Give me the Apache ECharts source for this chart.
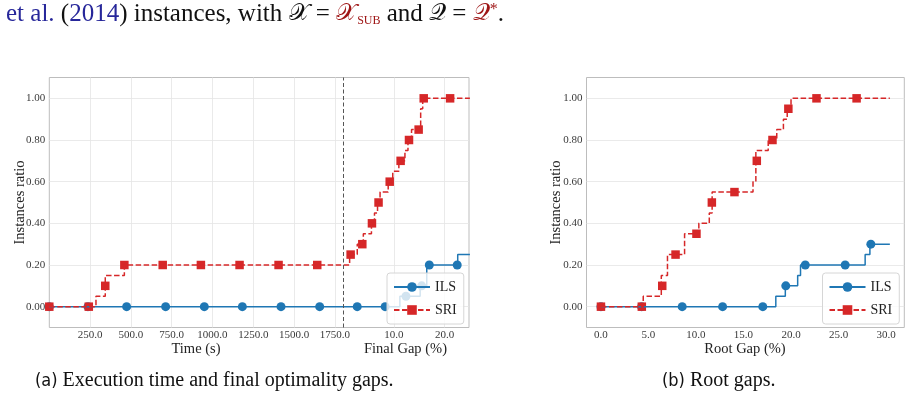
<!DOCTYPE html>
<html><head><meta charset="utf-8">
<script src="https://cdn.jsdelivr.net/npm/echarts@6/dist/echarts.min.js"></script>
<style>html,body{margin:0;padding:0;background:#fff}#c{width:911px;height:403px}</style>
</head><body><div id="c"></div>
<script>
// ---------------- DATA ----------------
// Shared-axis convention of panel (a): time in seconds up to the time limit,
// then final gap (%) stretched after it.
const TIME_LIMIT = 1800;
const GAP_SCALE = 31.1;          // axis units per 1 % of final gap
const LEFT_AXIS_MAX = 2572;

const ratioTicks = [0, 0.2, 0.4, 0.6, 0.8, 1.0];
const timeTicks = [250, 500, 750, 1000, 1250, 1500, 1750];
const finalGapTicks = [10, 20];
const rootGapTicks = [0, 5, 10, 15, 20, 25, 30];

// Panel (a) - time part: step curves (x = seconds, y = instance ratio)
const timeIlsStepX = [0, 1800];
const timeIlsStepY = [0, 0];
const timeSriStepX = [0, 286, 343, 460, 1800];
const timeSriStepY = [0, 0.05, 0.15, 0.20, 0.20];
// Panel (a) - final gap part: step curves (x = gap %)
const gapIlsStepX = [11.2, 15.2, 16.5, 22.6, 25];
const gapIlsStepY = [0.05, 0.10, 0.20, 0.25, 0.25];
const gapSriStepX = [1.3, 2.8, 4.0, 5.6, 6.2, 6.8, 7.3, 8.9, 9.8, 11.0, 12.2, 12.8, 13.5, 15.3, 15.7, 25];
const gapSriStepY = [0.25, 0.30, 0.35, 0.40, 0.45, 0.50, 0.55, 0.60, 0.65, 0.70, 0.75, 0.80, 0.85, 0.95, 1.00, 1.00];
// Panel (a) markers
const timeIlsMarkX = [0, 237, 474, 713, 950, 1183, 1420, 1657];
const timeIlsMarkY = [0, 0, 0, 0, 0, 0, 0, 0];
const gapIlsMarkX = [2.8, 8.3, 12.4, 15.5, 17.0, 22.5];
const gapIlsMarkY = [0, 0, 0.05, 0.10, 0.20, 0.20];
const timeSriMarkX = [0, 242, 343, 460, 695, 929, 1166, 1405, 1642];
const timeSriMarkY = [0, 0, 0.10, 0.20, 0.20, 0.20, 0.20, 0.20, 0.20];
const gapSriMarkX = [1.5, 3.8, 5.7, 7.0, 9.2, 11.35, 13.0, 14.9, 15.9, 21.1];
const gapSriMarkY = [0.25, 0.30, 0.40, 0.50, 0.60, 0.70, 0.80, 0.85, 1.00, 1.00];

// Panel (b) - root gap (%)
const rootIlsStepX = [0, 18.4, 19.4, 20.7, 21.0, 27.8, 28.3, 30.4];
const rootIlsStepY = [0, 0.05, 0.10, 0.15, 0.20, 0.25, 0.30, 0.30];
const rootSriStepX = [0, 4.45, 6.35, 7.0, 8.8, 10.3, 11.4, 11.7, 16.0, 16.3, 17.6, 18.5, 19.2, 19.6, 20.0, 30.4];
const rootSriStepY = [0, 0.05, 0.15, 0.25, 0.35, 0.40, 0.45, 0.55, 0.60, 0.75, 0.80, 0.85, 0.90, 0.95, 1.00, 1.00];
const rootIlsMarkX = [0, 4.28, 8.55, 12.8, 17.03, 19.45, 21.5, 25.7, 28.4];
const rootIlsMarkY = [0, 0, 0, 0, 0, 0.10, 0.20, 0.20, 0.30];
const rootSriMarkX = [0, 4.3, 6.45, 7.85, 10.05, 11.67, 14.05, 16.4, 18.05, 19.72, 22.68, 26.9];
const rootSriMarkY = [0, 0, 0.10, 0.25, 0.35, 0.50, 0.55, 0.70, 0.80, 0.95, 1.00, 1.00];

// ---------------- BUILD ----------------
const SERIF = "'Liberation Serif','DejaVu Serif',serif";
const BLUE = '#1f77b4', RED = '#d62728';
const gapToAxis = g => TIME_LIMIT + g * GAP_SCALE;
const zip = (xs, ys, fx) => xs.map((x, i) => [fx ? fx(x) : x, ys[i]]);

const leftTickPos = timeTicks.concat(finalGapTicks.map(gapToAxis));
const leftLabel = v => {
  if (v <= TIME_LIMIT) return v.toFixed(1);
  return ((v - TIME_LIMIT) / GAP_SCALE).toFixed(1);
};

const leftIlsLine = zip(timeIlsStepX, timeIlsStepY).concat(zip(gapIlsStepX, gapIlsStepY, gapToAxis));
const leftSriLine = zip(timeSriStepX, timeSriStepY).concat(zip(gapSriStepX, gapSriStepY, gapToAxis));
const leftIlsMarks = zip(timeIlsMarkX, timeIlsMarkY).concat(zip(gapIlsMarkX, gapIlsMarkY, gapToAxis));
const leftSriMarks = zip(timeSriMarkX, timeSriMarkY).concat(zip(gapSriMarkX, gapSriMarkY, gapToAxis));

const tickLabelStyle = {fontFamily: SERIF, fontSize: 11, color: '#3a3a3a'};
const gridLine = {lineStyle: {color: '#e4e4e4', width: 0.8}};

function yAxis(gi) {
  return {
    gridIndex: gi, type: 'value', min: -0.1, max: 1.1,
    axisLine: {show: false},
    axisTick: {show: false, customValues: ratioTicks},
    axisLabel: Object.assign({customValues: ratioTicks, formatter: v => v.toFixed(2), margin: 4}, tickLabelStyle),
    splitLine: Object.assign({show: true}, gridLine)
  };
}

function lineSeries(name, data, xi, color, dashed, symbol, extra) {
  return Object.assign({
    name, type: 'line', step: 'end', data, xAxisIndex: xi, yAxisIndex: xi,
    showSymbol: false, symbol, symbolSize: 9,
    lineStyle: {color, width: 1.5, type: dashed ? [5.5, 2.5] : 'solid'},
    itemStyle: {color}, animation: false, silent: true, clip: true
  }, extra || {});
}
function markSeries(name, data, xi, color, symbol, size) {
  return {
    name, type: 'scatter', data, xAxisIndex: xi, yAxisIndex: xi,
    symbol, symbolSize: size, itemStyle: {color, opacity: 1},
    animation: false, silent: true, clip: false
  };
}

const legendCommon = {
  orient: 'vertical', top: 273, padding: [7, 7, 7, 6],
  itemWidth: 36, itemHeight: 12, itemGap: 9,
  backgroundColor: 'rgba(255,255,255,0.8)', borderColor: '#d6d6d6', borderWidth: 1, borderRadius: 3,
  textStyle: {fontFamily: SERIF, fontSize: 14, color: '#222'},
  data: ['ILS', 'SRI'], z: 20, selectedMode: false
};

const option = {
  backgroundColor: '#fff',
  animation: false,
  grid: [
    {left: 49.3, top: 77.5, width: 419.7, height: 250, show: true, borderColor: '#bdbdbd', borderWidth: 1, containLabel: false},
    {left: 586.5, top: 77.5, width: 317.8, height: 250, show: true, borderColor: '#bdbdbd', borderWidth: 1, containLabel: false}
  ],
  xAxis: [
    {
      gridIndex: 0, type: 'value', min: 0, max: LEFT_AXIS_MAX,
      axisLine: {show: false},
      axisTick: {show: false, customValues: leftTickPos},
      axisLabel: Object.assign({customValues: leftTickPos, formatter: leftLabel, margin: 2}, tickLabelStyle),
      splitLine: Object.assign({show: true}, gridLine)
    },
    {
      gridIndex: 1, type: 'value', min: -1.52, max: 31.92,
      axisLine: {show: false},
      axisTick: {show: false, customValues: rootGapTicks},
      axisLabel: Object.assign({customValues: rootGapTicks, formatter: v => v.toFixed(1), margin: 2}, tickLabelStyle),
      splitLine: {show: false}
    }
  ],
  yAxis: [yAxis(0), yAxis(1)],
  legend: [
    Object.assign({left: 387}, legendCommon),
    Object.assign({left: 822.5}, legendCommon)
  ],
  series: [
    lineSeries('ILS', leftIlsLine, 0, BLUE, false, 'circle', {
      markLine: {
        silent: true, symbol: ['none', 'none'], label: {show: false},
        lineStyle: {color: '#555', type: [4, 2.5], width: 1},
        data: [{xAxis: TIME_LIMIT}], animation: false
      }
    }),
    markSeries('ILS marks a', leftIlsMarks, 0, BLUE, 'circle', 9),
    lineSeries('SRI', leftSriLine, 0, RED, true, 'rect'),
    markSeries('SRI marks a', leftSriMarks, 0, RED, 'rect', 8.5),
    lineSeries('ILS', zip(rootIlsStepX, rootIlsStepY), 1, BLUE, false, 'circle'),
    markSeries('ILS marks b', zip(rootIlsMarkX, rootIlsMarkY), 1, BLUE, 'circle', 9),
    lineSeries('SRI', zip(rootSriStepX, rootSriStepY), 1, RED, true, 'rect'),
    markSeries('SRI marks b', zip(rootSriMarkX, rootSriMarkY), 1, RED, 'rect', 8.5)
  ],
  graphic: [
    {type: 'text', x: 196, y: 349, style: {text: 'Time (s)', font: "14.5px " + SERIF, fill: '#222', align: 'center', verticalAlign: 'middle'}},
    {type: 'text', x: 405.5, y: 349, style: {text: 'Final Gap (%)', font: "14.5px " + SERIF, fill: '#222', align: 'center', verticalAlign: 'middle'}},
    {type: 'text', x: 745, y: 349, style: {text: 'Root Gap (%)', font: "14.5px " + SERIF, fill: '#222', align: 'center', verticalAlign: 'middle'}},
    {type: 'text', x: 20, y: 202.5, rotation: Math.PI / 2, style: {text: 'Instances ratio', font: "14.5px " + SERIF, fill: '#222', align: 'center', verticalAlign: 'middle'}},
    {type: 'text', x: 556, y: 202.5, rotation: Math.PI / 2, style: {text: 'Instances ratio', font: "14.5px " + SERIF, fill: '#222', align: 'center', verticalAlign: 'middle'}},
    {type: 'text', x: 35, y: 381, style: {
      text: '{s|(a)} Execution time and final optimality gaps.',
      font: "20px " + SERIF, fill: '#111', verticalAlign: 'middle',
      rich: {s: {fontFamily: "'DejaVu Sans Condensed','Noto Sans',sans-serif", fontSize: 18, fill: '#111'}}
    }},
    {type: 'text', x: 662, y: 381, style: {
      text: '{s|(b)} Root gaps.',
      font: "20px " + SERIF, fill: '#111', verticalAlign: 'middle',
      rich: {s: {fontFamily: "'DejaVu Sans Condensed','Noto Sans',sans-serif", fontSize: 18, fill: '#111'}}
    }},
    {type: 'text', x: 6, y: 14, style: {
      text: '{b|et al.} ({b|2014}) instances, with {m|𝒳} = {r|𝒳}{s|SUB} and {m|𝒬} = {r|𝒬}{p|*}.',
      font: "25px " + SERIF, fill: '#111', verticalAlign: 'middle',
      rich: {
        b: {fill: '#27279a', fontSize: 25, fontFamily: SERIF},
        m: {fill: '#111', fontSize: 24, fontFamily: "'DejaVu Sans','DejaVu Serif',serif"},
        r: {fill: '#9e1414', fontSize: 24, fontFamily: "'DejaVu Sans','DejaVu Serif',serif"},
        s: {fill: '#9e1414', fontSize: 12, fontFamily: SERIF, lineHeight: 6, verticalAlign: 'bottom'},
        p: {fill: '#9e1414', fontSize: 16, fontFamily: SERIF, verticalAlign: 'top'}
      }
    }}
  ]
};

const chart = echarts.init(document.getElementById('c'), null, {renderer: 'canvas'});
chart.setOption(option);
</script>
</body></html>
